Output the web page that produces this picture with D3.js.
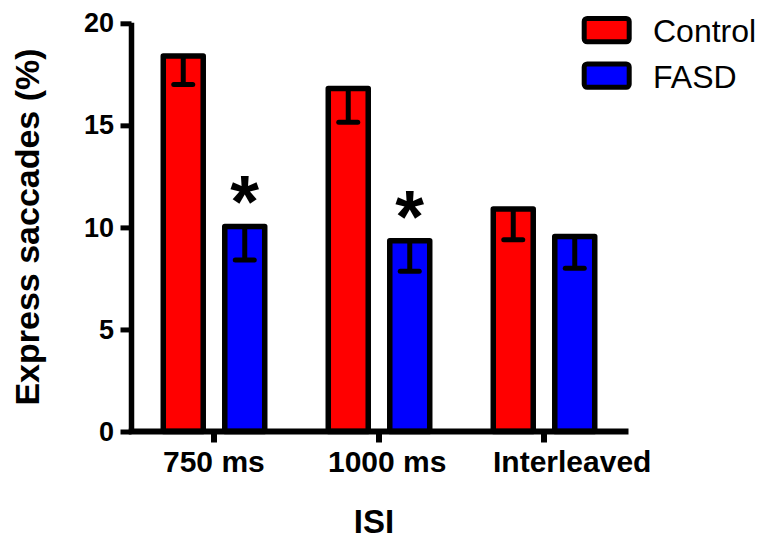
<!DOCTYPE html>
<html>
<head>
<meta charset="utf-8">
<script src="https://cdn.jsdelivr.net/npm/d3@7"></script>
<style>
  html, body { margin: 0; padding: 0; background: #fff; }
  svg { display: block; font-family: "Liberation Sans", Arial, Helvetica, sans-serif; }
</style>
</head>
<body>
<svg id="chart" width="766" height="540"></svg>
<script>
// Express saccade rates by inter-stimulus interval
const categories = ["750 ms", "1000 ms", "Interleaved"];
const groups = ["Control", "FASD"];
const controlMean = [18.4, 16.8, 10.9];
const controlSem = [1.4, 1.65, 1.5];
const fasdMean = [10.05, 9.35, 9.55];
const fasdSem = [1.65, 1.5, 1.55];
const fasdSignificant = [true, true, false];
const yTicks = [0, 5, 10, 15, 20];

const colors = { Control: "#ff0000", FASD: "#0000ff" };

const rows = [];
categories.forEach((c, i) => {
  rows.push({ cat: c, group: "Control", mean: controlMean[i], sem: controlSem[i], sig: false });
  rows.push({ cat: c, group: "FASD", mean: fasdMean[i], sem: fasdSem[i], sig: fasdSignificant[i] });
});

const svg = d3.select("#chart");

const y = d3.scaleLinear().domain([0, 20]).range([431.5, 23.3]);
const x0 = d3.scaleBand().domain(categories).range([131.5, 626.5]).padding(0);
const x1 = d3.scaleBand().domain(groups).range([-61.5, 61.5]).paddingInner(0.35).paddingOuter(0.175);

const cx = d => x0(d.cat) + x0.bandwidth() / 2 + x1(d.group) + x1.bandwidth() / 2;

// Bars
svg.append("g").selectAll("rect").data(rows).join("rect")
  .attr("x", d => cx(d) - x1.bandwidth() / 2)
  .attr("y", d => y(d.mean))
  .attr("width", x1.bandwidth())
  .attr("height", d => y(0) - y(d.mean))
  .attr("fill", d => colors[d.group])
  .attr("stroke", "#000")
  .attr("stroke-width", 5.5)
  .attr("stroke-linejoin", "round");

// Error bars (lower half, SEM)
const eb = svg.append("g").attr("stroke", "#000").attr("stroke-width", 5);
eb.selectAll("line.v").data(rows).join("line").attr("class", "v")
  .attr("x1", cx).attr("x2", cx)
  .attr("y1", d => y(d.mean)).attr("y2", d => y(d.mean - d.sem));
eb.selectAll("line.cap").data(rows).join("line").attr("class", "cap")
  .attr("stroke-linecap", "round")
  .attr("x1", d => cx(d) - 9.5).attr("x2", d => cx(d) + 9.5)
  .attr("y1", d => y(d.mean - d.sem)).attr("y2", d => y(d.mean - d.sem));

// Significance markers
svg.append("g").selectAll("text").data(rows.filter(d => d.sig)).join("text")
  .attr("x", cx)
  .attr("y", d => y(d.mean) + 1)
  .attr("text-anchor", "middle")
  .attr("font-size", 74)
  .attr("font-weight", "bold")
  .text("*");

// Y axis
const yAxis = d3.axisLeft(y).tickValues(yTicks).tickSize(11).tickSizeOuter(0).tickPadding(6.5);
const gy = svg.append("g").attr("transform", "translate(131.5,0)").call(yAxis);
gy.select(".domain").remove();
gy.selectAll(".tick line").attr("stroke", "#000").attr("stroke-width", 5);
gy.selectAll(".tick text").attr("font-size", 27).attr("font-weight", "bold")
  .attr("fill", "#000").attr("font-family", "Liberation Sans, Arial, sans-serif");
svg.append("line")
  .attr("x1", 131.5).attr("x2", 131.5)
  .attr("y1", y(20) - 0.5).attr("y2", y(0))
  .attr("stroke", "#000").attr("stroke-width", 5.5);

// X axis
const xAxis = d3.axisBottom(x0).tickSize(11).tickSizeOuter(0);
const gx = svg.append("g").attr("transform", `translate(0,${y(0)})`).call(xAxis);
gx.select(".domain").remove();
gx.selectAll(".tick line").attr("stroke", "#000").attr("stroke-width", 6);
gx.selectAll(".tick text")
  .attr("text-anchor", "start")
  .attr("x", -51)
  .attr("y", 40.2)
  .attr("dy", 0)
  .attr("font-size", 30).attr("font-weight", "bold")
  .attr("fill", "#000").attr("font-family", "Liberation Sans, Arial, sans-serif");
svg.append("line")
  .attr("x1", 128.75).attr("x2", 628.5)
  .attr("y1", y(0)).attr("y2", y(0))
  .attr("stroke", "#000").attr("stroke-width", 6);

// Axis titles
svg.append("text")
  .attr("transform", "translate(38.5,227) rotate(-90)")
  .attr("text-anchor", "middle")
  .attr("font-size", 34).attr("font-weight", "bold")
  .text("Express saccades (%)");
svg.append("text")
  .attr("x", 374).attr("y", 533)
  .attr("text-anchor", "middle")
  .attr("font-size", 33).attr("font-weight", "bold")
  .text("ISI");

// Legend
const legend = svg.append("g").selectAll("g").data(groups).join("g")
  .attr("transform", (d, i) => `translate(0,${i * 45.5})`);
legend.append("rect")
  .attr("x", 584.2).attr("y", 18.5)
  .attr("width", 45).attr("height", 23.3)
  .attr("rx", 3)
  .attr("fill", d => colors[d])
  .attr("stroke", "#000").attr("stroke-width", 5);
legend.append("text")
  .attr("x", 653).attr("y", 42)
  .attr("font-size", 32)
  .text(d => d);
</script>
</body>
</html>
